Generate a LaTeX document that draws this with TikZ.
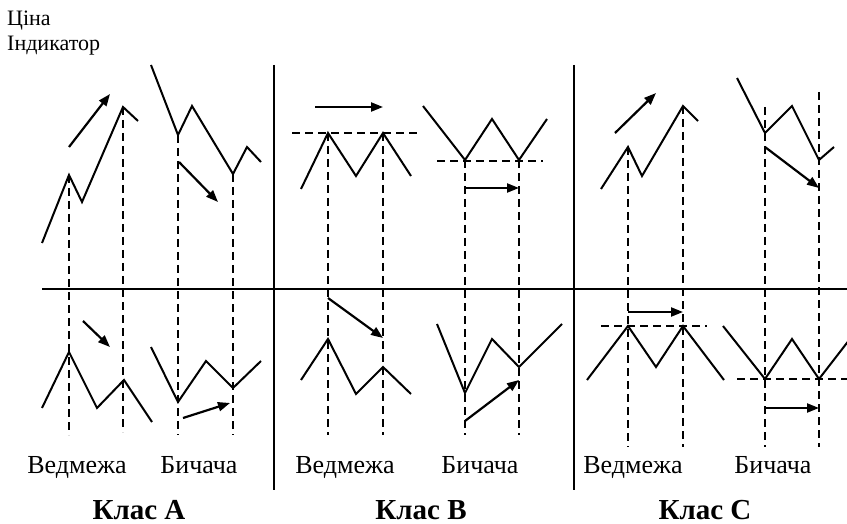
\documentclass[tikz,border=0pt]{standalone}
\usepackage{fontspec}
\setmainfont{Liberation Serif}
\usetikzlibrary{arrows.meta}
\tikzset{
  curve/.style={line width=2pt, line join=miter},
  guide/.style={line width=1.2pt, dash pattern=on 8pt off 5pt},
  axis/.style={line width=2.6pt},
  trend/.style={line width=2.2pt, -{Triangle[length=12pt,width=9pt]}},
  lbl/.style={font=\fontsize{26}{30}\selectfont, anchor=base, inner sep=0pt},
  cls/.style={font=\fontsize{29}{32}\selectfont\bfseries, anchor=base, inner sep=0pt},
  head/.style={font=\fontsize{22}{26}\selectfont, anchor=base west, inner sep=0pt, align=left},
}
\begin{document}
\begin{tikzpicture}[x=1pt,y=-1pt]
\useasboundingbox (0,0) rectangle (847,524);
\begin{scope}
\clip (0,0) rectangle (847,524);
% header
\node[head] (hp) at (7,26) {Ціна};
\node[head] (hi) at (7,51) {Індикатор};
% axes
\draw[axis] (42,289) -- (847,289);
\draw[axis] (274,65) -- (274,490);
\draw[axis] (574,65) -- (574,490);

% ===== Class A =====
% top
\draw[curve] (42,243) -- (69,175) -- (82,202) -- (123,107) -- (138,121);
\draw[trend] (69,147) -- (110,94);
\draw[curve] (151,65) -- (178,135) -- (192,106) -- (233,174) -- (247,147) -- (261,162);
\draw[trend] (179,162) -- (218,202);
\draw[guide] (69,175) -- (69,435);
\draw[guide] (123,107) -- (123,432);
\draw[guide] (178,135) -- (178,435);
\draw[guide] (233,174) -- (233,435);
% bottom
\draw[trend] (83,321) -- (110,347);
\draw[curve] (42,408) -- (69,352) -- (97,408) -- (124,380) -- (152,422);
\draw[curve] (151,347) -- (178,402) -- (206,361) -- (233,388) -- (261,361);
\draw[trend] (183,418) -- (230,403);
\node[lbl] (a1) at (77,473) {Ведмежа};
\node[lbl] (a2) at (199,473) {Бичача};
\node[cls] (ca) at (139,519) {Клас А};

% ===== Class B =====
% top
\draw[trend] (315,107) -- (383,107);
\draw[guide] (292,133) -- (418,133);
\draw[curve] (301,189) -- (328,133) -- (356,176) -- (383,133) -- (411,176);
\draw[curve] (423,106) -- (465,160) -- (492,119) -- (519,160) -- (547,119);
\draw[guide] (437,161) -- (543,161);
\draw[trend] (465,188) -- (519,188);
\draw[guide] (328,133) -- (328,435);
\draw[guide] (383,133) -- (383,435);
\draw[guide] (465,160) -- (465,435);
\draw[guide] (519,160) -- (519,435);
% bottom
\draw[trend] (328,298) -- (383,338);
\draw[curve] (301,380) -- (328,339) -- (356,394) -- (383,367) -- (411,394);
\draw[curve] (437,324) -- (465,393) -- (492,339) -- (519,367) -- (562,324);
\draw[trend] (465,421) -- (519,380);
\node[lbl] (b1) at (345,473) {Ведмежа};
\node[lbl] (b2) at (480,473) {Бичача};
\node[cls] (cb) at (421,519) {Клас В};

% ===== Class C =====
% top
\draw[trend] (615,133) -- (656,93);
\draw[curve] (601,189) -- (628,147) -- (642,176) -- (683,106) -- (698,121);
\draw[curve] (737,78) -- (765,133) -- (792,106) -- (819,160) -- (834,147);
\draw[trend] (765,147) -- (819,188);
\draw[guide] (628,147) -- (628,447);
\draw[guide] (683,106) -- (683,447);
\draw[guide] (765,107) -- (765,447);
\draw[guide] (819,92) -- (819,447);
% bottom
\draw[trend] (628,312) -- (683,312);
\draw[guide] (601,326) -- (707,326);
\draw[curve] (587,380) -- (628,326) -- (656,367) -- (683,326) -- (724,380);
\draw[curve] (723,326) -- (765,379) -- (792,339) -- (819,379) -- (860,326);
\draw[guide] (737,379) -- (850,379);
\draw[trend] (765,408) -- (819,408);
\node[lbl] (c1) at (633,473) {Ведмежа};
\node[lbl] (c2) at (773,473) {Бичача};
\node[cls] (cc) at (705,519) {Клас С};
\end{scope}
\end{tikzpicture}
\end{document}
